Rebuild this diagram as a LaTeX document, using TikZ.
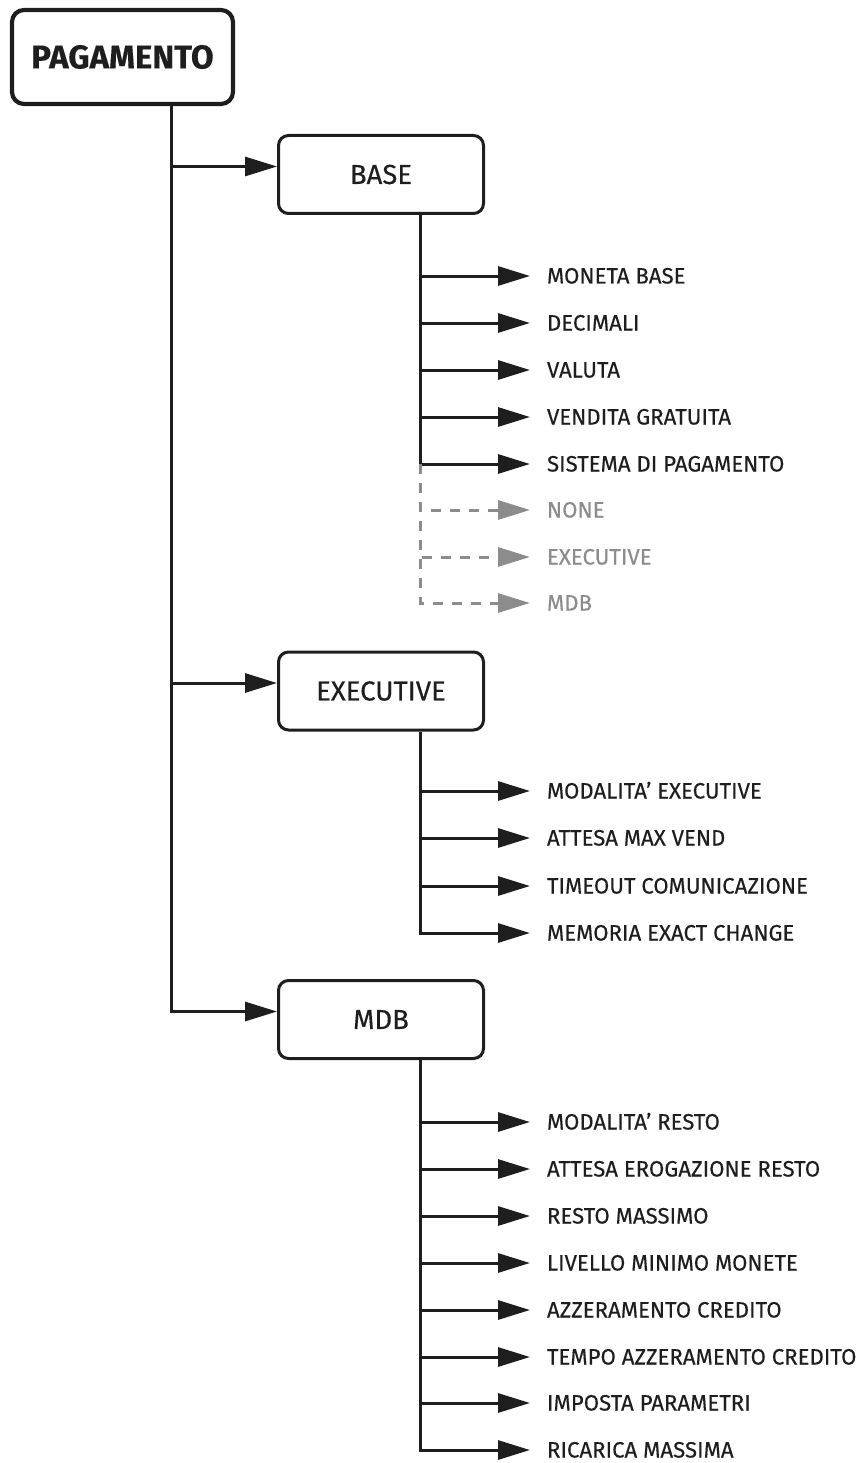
\documentclass[tikz,border=0pt]{standalone}
\usepackage{fontspec}
\setmainfont{Fira Sans}[FakeBold=0.3]
\usetikzlibrary{arrows.meta}
\definecolor{ink}{HTML}{1E1E1E}
\definecolor{dim}{HTML}{8C8C8C}
\begin{document}
\begin{tikzpicture}[x=1pt,y=-1pt,
  box/.style={draw=ink, line width=3pt, rounded corners=10pt, minimum width=205pt, minimum height=78pt, font=\fontsize{27.5}{32}\selectfont, text=ink, inner sep=0pt},
  root/.style={box, line width=4.2pt, rounded corners=12pt, minimum width=221pt, minimum height=94pt, font=\fontsize{33}{38}\selectfont\bfseries},
  item/.style={anchor=west, inner xsep=17pt, inner ysep=0pt, outer sep=0pt, text height=15pt, text depth=0pt, font=\fontsize{22.2}{26}\selectfont, text=ink},
  opt/.style={item, text=dim},
  conn/.style={draw=ink, line width=3pt, -{Triangle[length=32pt,width=19pt]}},
  optconn/.style={draw=dim, line width=3pt, dash pattern=on 10pt off 9pt, -{Triangle[length=32pt,width=19pt]}},
]
\useasboundingbox (0,0) rectangle (861,1463);

\node[root] (pag) at (122.5,57) {PAGAMENTO};
\node[box] (base) at (381,174.5) {BASE};
\node[box] (exec) at (381,691) {EXECUTIVE};
\node[box] (mdb) at (381,1019.5) {MDB};

\coordinate (trunk) at ([xshift=48.5pt]pag.south);
\draw[conn] (trunk) |- ([yshift=8pt]base.west);
\draw[conn] (trunk) |- ([yshift=8pt]exec.west);
\draw[conn] (trunk) |- ([yshift=8pt]mdb.west);

% BASE
\node[item] (b1) at (530,276) {MONETA BASE};
\node[item] (b2) at (530,323) {DECIMALI};
\node[item] (b3) at (530,370) {VALUTA};
\node[item] (b4) at (530,417) {VENDITA GRATUITA};
\node[item] (b5) at (530,464) {SISTEMA DI PAGAMENTO};
\node[opt] (o1) at (530,510) {NONE};
\node[opt] (o2) at (530,557) {EXECUTIVE};
\node[opt] (o3) at (530,603) {MDB};
\coordinate (bt) at ([xshift=39pt]base.south);
\foreach \n in {b1,b2,b3,b4,b5} \draw[conn] (bt) |- (\n.west);
\coordinate (sj) at (bt |- b5.west);
\foreach \n in {o1,o2,o3} \draw[optconn] (sj) |- (\n.west);

% EXECUTIVE
\node[item] (e1) at (530,791) {MODALITA’ EXECUTIVE};
\node[item] (e2) at (530,838) {ATTESA MAX VEND};
\node[item] (e3) at (530,886) {TIMEOUT COMUNICAZIONE};
\node[item] (e4) at (530,933) {MEMORIA EXACT CHANGE};
\coordinate (et) at ([xshift=39pt]exec.south);
\foreach \n in {e1,e2,e3,e4} \draw[conn] (et) |- (\n.west);

% MDB
\node[item] (m1) at (530,1122) {MODALITA’ RESTO};
\node[item] (m2) at (530,1169) {ATTESA EROGAZIONE RESTO};
\node[item] (m3) at (530,1216) {RESTO MASSIMO};
\node[item] (m4) at (530,1263) {LIVELLO MINIMO MONETE};
\node[item] (m5) at (530,1310) {AZZERAMENTO CREDITO};
\node[item] (m6) at (530,1357) {TEMPO AZZERAMENTO CREDITO};
\node[item] (m7) at (530,1403) {IMPOSTA PARAMETRI};
\node[item] (m8) at (530,1450) {RICARICA MASSIMA};
\coordinate (mt) at ([xshift=39pt]mdb.south);
\foreach \n in {m1,m2,m3,m4,m5,m6,m7,m8} \draw[conn] (mt) |- (\n.west);
\end{tikzpicture}
\end{document}
